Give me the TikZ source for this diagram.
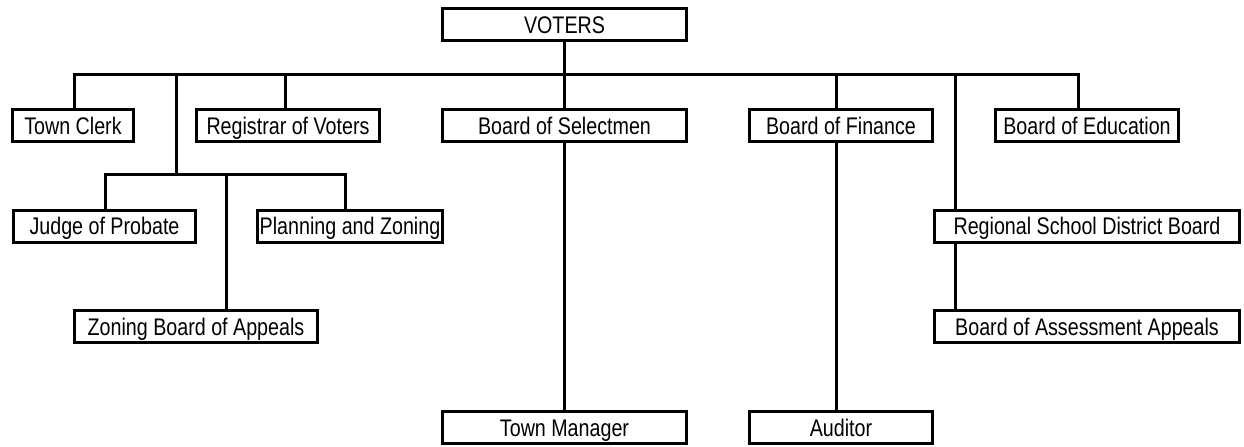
\documentclass[tikz,border=0pt]{standalone}
\usepackage{fontspec}
\setmainfont[FakeStretch=0.82]{Liberation Sans}

\begin{document}
\begin{tikzpicture}[x=0.5pt, y=-0.5pt, line width=1.5pt,
	office/.style={draw, line width=1.5pt, minimum height=16pt, inner xsep=1pt, inner ysep=0pt,
		text height=8.6pt, text depth=0pt, font=\fontsize{12pt}{14pt}\selectfont}]

	\useasboundingbox (0, 0) rectangle (1244, 446);

	\node [office, minimum width=122pt] (voters) at (564.5, 24.5) {VOTERS};

	\node [office, minimum width=60.5pt] (clerk) at (73, 125.5) {Town Clerk\hspace{7.5pt}};
	\node [office, minimum width=91.5pt] (registrar) at (288, 125.5) {Registrar of Voters};
	\node [office, minimum width=122pt] (selectmen) at (564.5, 125.5) {Board of Selectmen};
	\node [office, minimum width=91.5pt] (finance) at (841, 125.5) {Board of Finance};
	\node [office, minimum width=91.5pt] (education) at (1087, 125.5) {Board of Education};

	\node [office, minimum width=91pt] (probate) at (104.5, 226) {Judge of Probate};
	\node [office, minimum width=91.5pt] (planning) at (350, 226) {Planning and Zoning};
	\node [office, minimum width=152.5pt] (regional) at (1087, 226) {Regional School District Board};

	\node [office, minimum width=121.5pt] (appeals) at (196, 326.5) {Zoning Board of Appeals};
	\node [office, minimum width=152.5pt] (assessment) at (1087, 326.5) {Board of Assessment Appeals};

	\node [office, minimum width=122pt] (manager) at (564.5, 427.5) {Town Manager};
	\node [office, minimum width=91.5pt] (auditor) at (841, 427.5) {Auditor};

	%------ bus below the voters
	\coordinate (b1) at (74, 74);
	\coordinate (b2) at (176, 74);
	\coordinate (b3) at (285, 74);
	\coordinate (b5) at (836, 74);
	\coordinate (b6) at (955, 74);
	\coordinate (b7) at (1078, 74);

	\draw (clerk.north -| b1) |- (b7) -- (education.north -| b7);
	\draw (voters) -- (selectmen);
	\draw (selectmen) -- (manager);
	\draw (b3) -- (registrar.north -| b3);
	\draw (b5) -- (finance.north -| b5);
	\draw (finance.south -| b5) -- (auditor.north -| b5);
	\draw (b6) -- (regional.north -| b6);
	\draw (regional.south -| b6) -- (assessment.north -| b6);

	%------ second bus
	\coordinate (c1) at (105, 174);
	\coordinate (c2) at (226, 174);
	\coordinate (c3) at (345, 174);

	\draw (b2) -- (b2 |- c1);
	\draw (probate.north -| c1) |- (c3) -- (planning.north -| c3);
	\draw (c2) -- (appeals.north -| c2);
\end{tikzpicture}
\end{document}
